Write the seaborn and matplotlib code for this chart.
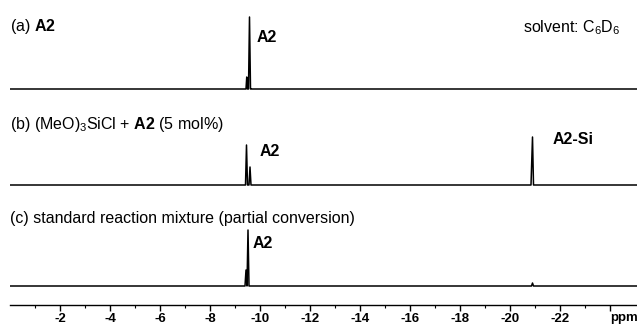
import matplotlib
matplotlib.use("Agg")
import matplotlib.pyplot as plt
import seaborn as sns
import pandas as pd

# peak lists (ppm, intensity); baseline is 0
ppm_a = [0.0, -9.38, -9.44, -9.47, -9.50, -9.54, -9.58, -9.62, -9.66, -25.1]
int_a = [0, 0, 0, 12, 0, 0, 72, 0, 0, 0]

ppm_b = [0.0, -9.36, -9.42, -9.46, -9.50, -9.56, -9.60, -9.64, -20.84, -20.90, -20.94, -25.1]
int_b = [0, 0, 0, 40, 0, 0, 18, 0, 0, 48, 0, 0]

ppm_c = [0.0, -9.34, -9.40, -9.44, -9.48, -9.52, -9.56, -20.86, -20.90, -20.94, -25.1]
int_c = [0, 0, 0, 16, 0, 56, 0, 0, 3, 0, 0]

trace_names = ["a", "b", "c"]
major_ticks = [-2, -4, -6, -8, -10, -12, -14, -16, -18, -20, -22, -24]
minor_ticks = [-1, -3, -5, -7, -9, -11, -13, -15, -17, -19, -21, -23]

# vertical offsets of the stacked traces (layout)
offsets = {"a": 216, "b": 120, "c": 19}

rows = []
for name, xs, ys in zip(trace_names, [ppm_a, ppm_b, ppm_c], [int_a, int_b, int_c]):
    for i, (x, y) in enumerate(zip(xs, ys)):
        rows.append({"trace": name, "order": i, "ppm": x, "y": y + offsets[name]})
df = pd.DataFrame(rows)

sns.set_style("white")
plt.rcParams["font.family"] = ["Liberation Sans", "DejaVu Sans"]
plt.rcParams["mathtext.fontset"] = "custom"
plt.rcParams["mathtext.rm"] = "Liberation Sans"
plt.rcParams["mathtext.it"] = "Liberation Sans:italic"
plt.rcParams["mathtext.bf"] = "Liberation Sans:bold"
plt.rcParams["axes.unicode_minus"] = False
plt.rcParams["text.color"] = "black"
plt.rcParams["xtick.color"] = "black"
plt.rcParams["xtick.labelcolor"] = "black"

W, H = 637, 327
fig = plt.figure(figsize=(W / 100, H / 100), dpi=100)
ax = fig.add_axes([10 / W, 22 / H, 627 / W, 305 / H])

sns.lineplot(data=df, x="ppm", y="y", units="trace", estimator=None, sort=False,
             color="black", linewidth=1.1, ax=ax, legend=False)

ax.set_xlim(0.0, -25.08)
ax.set_ylim(0, 305)
ax.set_yticks([])
ax.set_xlabel("")
ax.set_ylabel("")
for s in ["left", "top", "right"]:
    ax.spines[s].set_visible(False)
ax.spines["bottom"].set_color("black")
ax.spines["bottom"].set_linewidth(1.0)

tick_fs = 9.5
ax.set_xticks(major_ticks)
ax.set_xticklabels([str(t) for t in major_ticks[:-1]] + [""], fontweight="bold", fontsize=tick_fs)
ax.set_xticks(minor_ticks, minor=True)
ax.tick_params(axis="x", which="major", direction="out", length=4, width=1, pad=2, bottom=True)
ax.tick_params(axis="x", which="minor", direction="out", length=2.5, width=0.8, bottom=True)
ax.text(-24.55, -13, "ppm", fontsize=tick_fs, fontweight="bold", ha="center", va="center",
        clip_on=False)

def put(x, y, s, **kw):
    fig.text(x / W, 1 - y / H, s, va="center", **kw)

fs = 11.5
put(10, 27, r"(a) $\mathbf{A2}$", fontsize=fs)
put(257, 37, "A2", fontsize=fs, fontweight="bold")
put(620, 28, r"solvent: C$_6$D$_6$", fontsize=fs, ha="right")
put(10, 125, r"(b) (MeO)$_3$SiCl + $\mathbf{A2}$ (5 mol%)", fontsize=fs)
put(260, 152, "A2", fontsize=fs, fontweight="bold")
put(553, 140, "A2-Si", fontsize=fs, fontweight="bold")
put(10, 218, "(c) standard reaction mixture (partial conversion)", fontsize=fs)
put(253, 243, "A2", fontsize=fs, fontweight="bold")

fig.savefig("out.png", dpi=100)
